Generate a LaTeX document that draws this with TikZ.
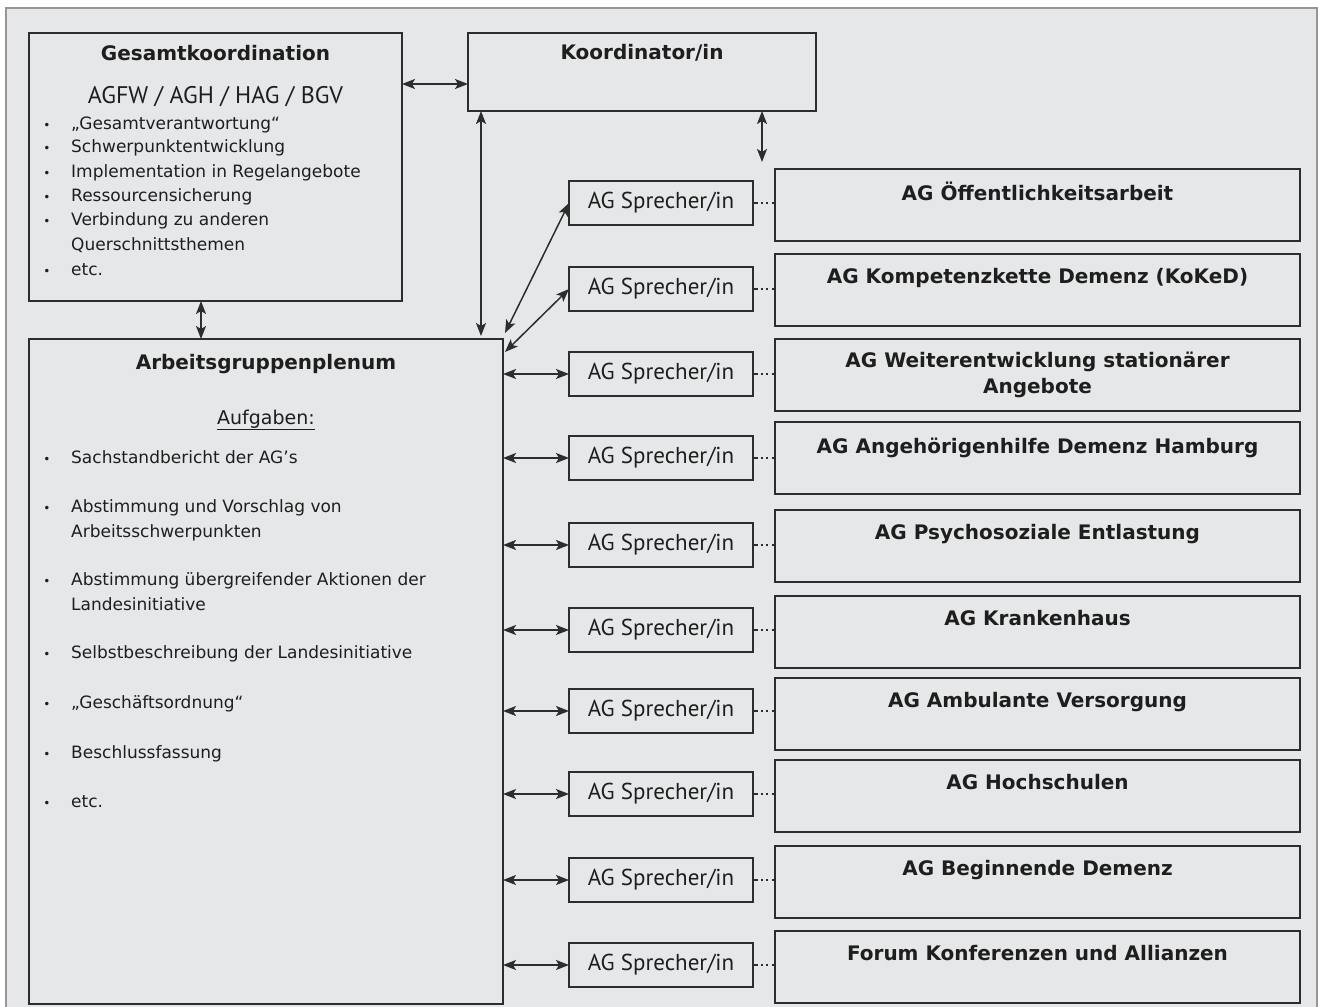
\documentclass[tikz,border=0pt]{standalone}
\usepackage{fontspec}
\setmainfont{DejaVu Sans}
\newfontfamily\ptsans{PT Sans}
\usetikzlibrary{arrows.meta,calc}
\definecolor{bgc}{RGB}{230,231,232}
\definecolor{frm}{RGB}{150,150,150}
\definecolor{ln}{RGB}{45,45,45}
\definecolor{tx}{RGB}{30,30,30}
\begin{document}
\begin{tikzpicture}[x=1pt,y=-1pt,
  box/.style={draw=ln, line width=1.6pt, anchor=north west, inner sep=0pt, outer sep=0pt},
  hd/.style={font=\fontsize{20}{24}\selectfont\bfseries, text=tx, inner sep=0pt, anchor=base},
  it/.style={font=\fontsize{17}{20}\selectfont, text=tx, inner sep=0pt, anchor=base west},
  bul/.style={font=\fontsize{12}{14}\selectfont, text=tx, inner sep=0pt, anchor=base},
  spr/.style={box, minimum width=184pt, minimum height=44pt},
  ag/.style={box, minimum width=525pt, minimum height=72pt},
  dbl/.style={draw=ln, line width=1.5pt, {Stealth[length=13pt,width=10pt,inset=3pt]}-{Stealth[length=13pt,width=10pt,inset=3pt]}},
  dd/.style={draw=ln, line width=1.3pt, dash pattern=on 5pt off 3pt on 2pt off 3pt on 2pt off 4pt}
]
\useasboundingbox (0,0) rectangle (1319,1006);
\fill[white] (0,0) rectangle (1319,1006);
\draw[frm, fill=bgc, line width=1.2pt] (6,8) rectangle (1317,1020);

% main boxes
\node[box, minimum width=373pt, minimum height=268pt] (G) at (29,33) {};
\node[box, minimum width=348pt, minimum height=78pt] (K) at (468,33) {};
\node[box, minimum width=474pt, minimum height=665pt] (P) at (29,339) {};

% Gesamtkoordination text
\node[hd] (tG) at (215.5,61) {Gesamtkoordination};
\node[font=\ptsans\fontsize{24}{27}\selectfont, text=tx, inner sep=0pt, anchor=base] (tG2) at (215.5,104) {AGFW / AGH / HAG / BGV};
\foreach \t/\yy [count=\i] in {{„Gesamtverantwortung“}/129, Schwerpunktentwicklung/153, {Implementation  in Regelangebote}/177, Ressourcensicherung/201, {Verbindung zu anderen}/225, etc./275} {
  \node[bul] (gb\i) at (47,\yy) {•};
  \node[it] (gt\i) at (71,\yy) {\t};
}
\node[it] (gt7) at (71,250) {Querschnittsthemen};

% Koordinator
\node[hd] (tK) at (642,60) {Koordinator/in};

% Arbeitsgruppenplenum
\node[hd] (tP) at (266,369) {Arbeitsgruppenplenum};
\node[font=\fontsize{19}{22}\selectfont, text=tx, inner sep=0pt, anchor=base] (tA) at (266,424) {\underline{Aufgaben:}};
\foreach \t/\yy [count=\i] in {{Sachstandbericht  der AG’s}/463, {Abstimmung  und Vorschlag von}/512, {Abstimmung  übergreifender  Aktionen  der}/585, {Selbstbeschreibung  der Landesinitiative}/658, {„Geschäftsordnung“}/708, Beschlussfassung/758, etc./807} {
  \node[bul] (pb\i) at (47,\yy) {•};
  \node[it] (pt\i) at (71,\yy) {\t};
}
\node[it] (pt8) at (71,537) {Arbeitsschwerpunkten};
\node[it] (pt9) at (71,610) {Landesinitiative};

% Sprecher boxes and AG boxes
\foreach \st/\at [count=\i] in {181/169, 267/254, 352/339, 436/422, 523/510, 608/596, 689/678, 772/760, 858/846, 943/931} {
  \node[spr] (S\i) at (569,\st) {};
  \node[font=\ptsans\fontsize{23}{26}\selectfont, text=tx, inner sep=0pt] (St\i) at (S\i.center) {AG Sprecher/in};
  \node[ag] (A\i) at (775,\at) {};
  \draw[dd] (S\i.east) -- (A\i.west |- S\i.east);
}
\node[hd] (at1) at ($(A1.north)+(0,31)$) {AG Öffentlichkeitsarbeit};
\node[hd] (at2) at ($(A2.north)+(0,29)$) {AG Kompetenzkette Demenz (KoKeD)};
\node[hd] (at3) at ($(A3.north)+(0,28)$) {AG Weiterentwicklung stationärer};
\node[hd] (at3b) at ($(A3.north)+(0,54)$) {Angebote};
\node[hd] (at4) at ($(A4.north)+(0,31)$) {AG Angehörigenhilfe Demenz Hamburg};
\node[hd] (at5) at ($(A5.north)+(0,29)$) {AG Psychosoziale Entlastung};
\node[hd] (at6) at ($(A6.north)+(0,29)$) {AG Krankenhaus};
\node[hd] (at7) at ($(A7.north)+(0,29)$) {AG Ambulante Versorgung};
\node[hd] (at8) at ($(A8.north)+(0,29)$) {AG Hochschulen};
\node[hd] (at9) at ($(A9.north)+(0,29)$) {AG Beginnende Demenz};
\node[hd] (at10) at ($(A10.north)+(0,29)$) {Forum Konferenzen und Allianzen};

% connectors
\coordinate (y84) at (0,84);
\coordinate (x481) at (481,0);
\coordinate (x201) at (201,0);
\coordinate (kf) at (762,162);
\coordinate (d1) at (505,333);
\coordinate (d2) at (505,352);
\draw[dbl] (G.east |- y84) -- (K.west |- y84);
\draw[dbl] (K.south -| x481) -- ($(P.north -| x481)+(0,-3)$);
\draw[dbl] (K.south -| kf) -- (kf);
\draw[dbl] (G.south -| x201) -- (P.north -| x201);
\draw[dbl] (d1) -- (S1.west);
\draw[dbl] (d2) -- (S2.west);
\foreach \i in {3,...,10} {
  \draw[dbl] (P.east |- S\i.west) -- (S\i.west);
}
\end{tikzpicture}
\end{document}
